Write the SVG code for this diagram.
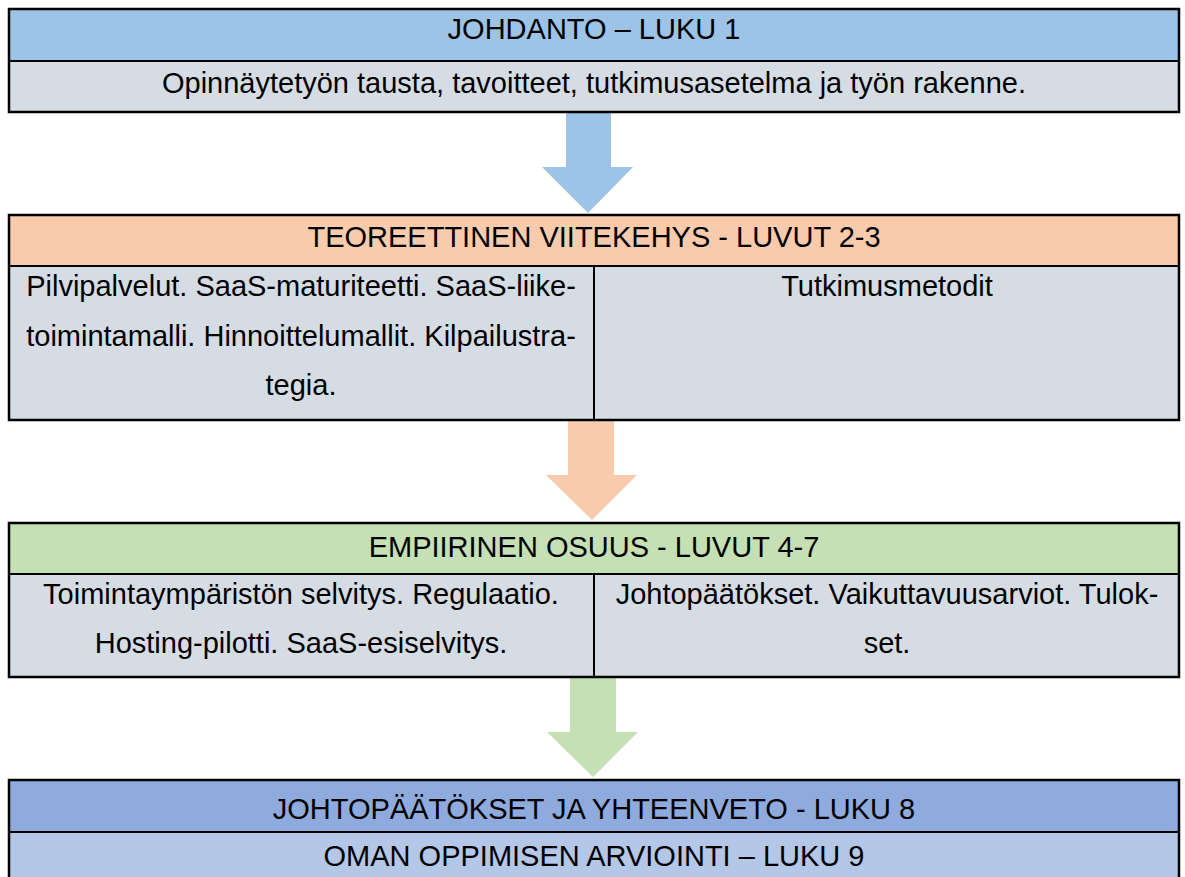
<svg xmlns="http://www.w3.org/2000/svg" width="1185" height="877" viewBox="0 0 1185 877">
  <style>
    text { font-family: "Liberation Sans", Arial, sans-serif; font-size: 29px; fill: #000; text-anchor: middle; }
    .frame { fill: none; stroke: #000; stroke-width: 2.5; }
    .rule { stroke: #000; stroke-width: 2; }
    .body { fill: #D6DCE4; }
  </style>
  <rect width="1185" height="877" fill="#fff"/>

  <!-- Connectors: block arrows between sections -->
  <g id="connectors">
    <polygon fill="#9DC3E6" points="566,113 611,113 611,167 633,167 588,213 542,167 566,167"/>
    <polygon fill="#F8CBAD" points="568,421 614,421 614,475 637,475 592,520 546,475 568,475"/>
    <polygon fill="#C5E0B4" points="570,678 616,678 616,732 638,732 593,777 547,732 570,732"/>
  </g>

  <!-- Section 1 -->
  <g id="johdanto">
    <rect x="9" y="9" width="1170" height="52" fill="#9DC3E6"/>
    <rect x="9" y="61" width="1170" height="51" class="body"/>
    <line x1="9" y1="61" x2="1179" y2="61" class="rule"/>
    <rect x="9" y="9" width="1170" height="103" class="frame"/>
    <text x="594" y="39">JOHDANTO – LUKU 1</text>
    <text x="594" y="93">Opinnäytetyön tausta, tavoitteet, tutkimusasetelma ja työn rakenne.</text>
  </g>

  <!-- Section 2 -->
  <g id="viitekehys">
    <rect x="9" y="215" width="1170" height="51" fill="#F8CBAD"/>
    <rect x="9" y="266" width="1170" height="154" class="body"/>
    <line x1="9" y1="266" x2="1179" y2="266" class="rule"/>
    <line x1="594" y1="266" x2="594" y2="420" class="rule"/>
    <rect x="9" y="215" width="1170" height="205" class="frame"/>
    <text x="594" y="247">TEOREETTINEN VIITEKEHYS - LUVUT 2-3</text>
    <text x="301" y="296">Pilvipalvelut. SaaS-maturiteetti. SaaS-liike-</text>
    <text x="301" y="346">toimintamalli. Hinnoittelumallit. Kilpailustra-</text>
    <text x="301" y="395">tegia.</text>
    <text x="887" y="296">Tutkimusmetodit</text>
  </g>

  <!-- Section 3 -->
  <g id="empiirinen">
    <rect x="9" y="523" width="1170" height="51" fill="#C5E0B4"/>
    <rect x="9" y="574" width="1170" height="103" class="body"/>
    <line x1="9" y1="574" x2="1179" y2="574" class="rule"/>
    <line x1="594" y1="574" x2="594" y2="677" class="rule"/>
    <rect x="9" y="523" width="1170" height="154" class="frame"/>
    <text x="594" y="557">EMPIIRINEN OSUUS - LUVUT 4-7</text>
    <text x="301" y="604">Toimintaympäristön selvitys. Regulaatio.</text>
    <text x="301" y="653">Hosting-pilotti. SaaS-esiselvitys.</text>
    <text x="887" y="604">Johtopäätökset. Vaikuttavuusarviot. Tulok-</text>
    <text x="887" y="653">set.</text>
  </g>

  <!-- Section 4 -->
  <g id="johtopaatokset">
    <rect x="9" y="780" width="1170" height="52" fill="#8FAADC"/>
    <rect x="9" y="832" width="1170" height="50" fill="#B4C7E7"/>
    <line x1="9" y1="832" x2="1179" y2="832" class="rule"/>
    <rect x="9" y="780" width="1170" height="102" class="frame"/>
    <text x="594" y="819">JOHTOPÄÄTÖKSET JA YHTEENVETO - LUKU 8</text>
    <text x="594" y="866">OMAN OPPIMISEN ARVIOINTI – LUKU 9</text>
  </g>
</svg>
